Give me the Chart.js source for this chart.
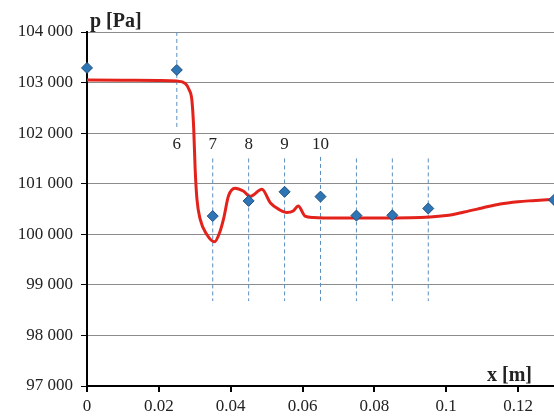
<!DOCTYPE html>
<html>
<head>
<meta charset="utf-8">
<script src="https://cdn.jsdelivr.net/npm/chart.js@4"></script>
<style>
  html, body { margin: 0; padding: 0; background: #fff; }
  #wrap { width: 554px; height: 416px; }
</style>
</head>
<body>
<div id="wrap"><canvas id="c" width="554" height="416"></canvas></div>
<script>
// measured points (diamonds)
const pointX = [0, 0.025, 0.035, 0.045, 0.055, 0.065, 0.075, 0.085, 0.095, 0.13];
const pointP = [103290, 103250, 100360, 100660, 100840, 100745, 100370, 100375, 100510, 100680];

// computed pressure curve (red)
const curveX = [0, 0.01, 0.02, 0.025, 0.0274, 0.0285, 0.0292, 0.0297, 0.0301, 0.0306, 0.0315, 0.0334,
  0.0355, 0.0369, 0.038, 0.0394, 0.0412, 0.0435, 0.0454, 0.0487, 0.051, 0.0537, 0.0556, 0.0574,
  0.0588, 0.0607, 0.063, 0.07, 0.08, 0.09, 0.1, 0.105, 0.11, 0.115, 0.12, 0.124, 0.13];
const curveP = [103050, 103045, 103040, 103030, 102980, 102850, 102650, 102100, 101300, 100700, 100300, 99990,
  99850, 100030, 100300, 100760, 100910, 100855, 100750, 100890, 100625, 100480, 100430, 100460,
  100560, 100360, 100330, 100320, 100320, 100325, 100370, 100440, 100520, 100600, 100645, 100665, 100690];

// dashed probe lines
const guideX = [0.025, 0.035, 0.045, 0.055, 0.065, 0.075, 0.085, 0.095];
const guideTop = [104140, 101500, 101500, 101500, 101530, 101500, 101500, 101500];
const guideBottom = [102070, 98680, 98680, 98680, 98680, 98680, 98680, 98680];
const guideLabels = ['6', '7', '8', '9', '10', '', '', ''];
const labelP = 101780;

const xTicks = [0, 0.02, 0.04, 0.06, 0.08, 0.1, 0.12];

const serif = '"Liberation Serif", "Times New Roman", serif';
Chart.defaults.font.family = serif;
Chart.defaults.font.size = 17;
Chart.defaults.color = '#222';

const guideSets = guideX.map((x, i) => ({
  data: [{ x: x, y: guideTop[i] }, { x: x, y: guideBottom[i] }],
  showLine: true,
  borderColor: '#5b8fc0',
  borderWidth: 1,
  borderDash: [4, 3],
  pointRadius: 0,
  order: 3
}));

const annotate = {
  id: 'annotate',
  afterDatasetsDraw(chart) {
    const ctx = chart.ctx;
    const xs = chart.scales.x, ys = chart.scales.y;
    ctx.save();
    ctx.fillStyle = '#222';
    ctx.font = '17px ' + serif;
    ctx.textAlign = 'center';
    ctx.textBaseline = 'middle';
    guideLabels.forEach((t, i) => {
      if (t) ctx.fillText(t, xs.getPixelForValue(guideX[i]), ys.getPixelForValue(labelP));
    });
    ctx.font = 'bold 20px ' + serif;
    ctx.textAlign = 'left';
    ctx.textBaseline = 'alphabetic';
    ctx.fillText('p [Pa]', 90, 27);
    ctx.fillText('x [m]', 487, 381);
    ctx.restore();
  }
};

new Chart(document.getElementById('c'), {
  type: 'scatter',
  data: {
    datasets: [
      {
        data: pointX.map((x, i) => ({ x: x, y: pointP[i] })),
        pointStyle: 'rectRot',
        pointRadius: 5.5,
        pointBackgroundColor: '#2e75b6',
        pointBorderColor: '#1f4e79',
        pointBorderWidth: 1,
        clip: false,
        order: 1
      },
      {
        data: curveX.map((x, i) => ({ x: x, y: curveP[i] })),
        showLine: true,
        borderColor: '#e3221c',
        borderWidth: 3,
        pointRadius: 0,
        cubicInterpolationMode: 'monotone',
        order: 2
      },
      ...guideSets
    ]
  },
  options: {
    responsive: false,
    animation: false,
    layout: { autoPadding: false, padding: { top: 32, right: 0, left: 0, bottom: 0 } },
    plugins: { legend: { display: false }, tooltip: { enabled: false } },
    scales: {
      x: {
        type: 'linear',
        min: 0,
        max: 0.13,
        afterBuildTicks(scale) {
          scale.ticks = xTicks.map(v => ({ value: v }));
        },
        afterFit(scale) {
          scale.height = 30;
          scale.paddingLeft = 0;
          scale.paddingRight = 0;
        },
        ticks: {
          padding: 4,
          maxRotation: 0,
          callback: v => String(parseFloat(Number(v).toFixed(2)))
        },
        grid: {
          drawOnChartArea: false,
          drawTicks: true,
          tickLength: 6,
          tickColor: '#000',
          lineWidth: 2
        },
        border: { color: '#000', width: 2 }
      },
      y: {
        min: 97000,
        max: 104000,
        afterFit(scale) {
          scale.width = 87;
          scale.paddingTop = 0;
          scale.paddingBottom = 0;
        },
        ticks: {
          stepSize: 1000,
          padding: 8,
          callback: v => String(v).replace(/\B(?=(\d{3})+(?!\d))/g, ' ')
        },
        grid: {
          color: '#8c8c8c',
          lineWidth: 1,
          drawTicks: true,
          tickLength: 6,
          tickColor: '#000'
        },
        border: { color: '#000', width: 2 }
      }
    }
  },
  plugins: [annotate]
});
</script>
</body>
</html>
